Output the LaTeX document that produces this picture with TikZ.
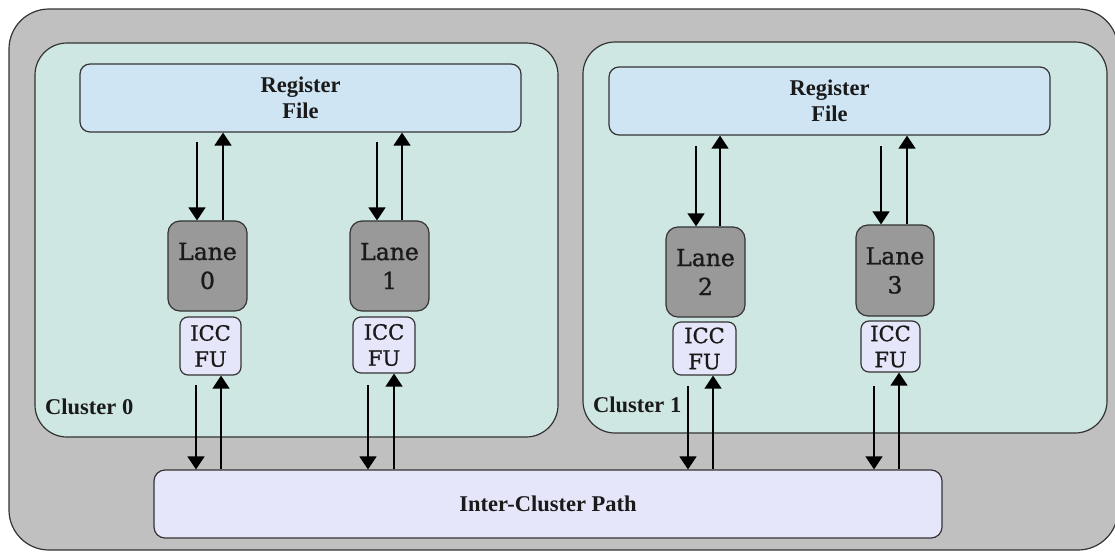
\documentclass[tikz,border=0pt]{standalone}
\usepackage{fontspec}
\setmainfont{Liberation Serif}
\newfontfamily\lanefont[FakeBold=1.1]{DejaVu Serif}
\usetikzlibrary{arrows.meta,calc}

\definecolor{edgecol}{HTML}{333333}
\definecolor{outerfill}{HTML}{C0C0C0}
\definecolor{clusterfill}{HTML}{CFE7E3}
\definecolor{regfill}{HTML}{CFE5F3}
\definecolor{lanefill}{HTML}{999999}
\definecolor{iccfill}{HTML}{E6E6FA}
\definecolor{txt}{HTML}{1A1A1A}

\tikzset{
  box/.style={draw=edgecol, line width=1.2pt, rounded corners=#1, inner sep=0pt,
              align=center, text=txt},
  regbox/.style={box=10pt, fill=regfill, minimum width=441pt, minimum height=68pt,
                 font=\bfseries\fontsize{22.5}{26}\selectfont},
  lanebox/.style={box=12pt, fill=lanefill, minimum width=79pt, minimum height=90pt,
                  font=\lanefont\fontsize{23.5}{29}\selectfont},
  iccbox/.style={box=8pt, fill=iccfill, font=\lanefont\fontsize{21}{26}\selectfont},
  pathbox/.style={box=11pt, fill=iccfill, minimum width=788pt, minimum height=68pt,
                  font=\bfseries\fontsize{22.5}{26}\selectfont},
  clusterlabel/.style={anchor=west, inner sep=0pt, text=txt,
                       font=\bfseries\fontsize{22.5}{26}\selectfont},
  arr/.style={line width=1.3pt, -{Triangle[width=17pt,length=13pt]}},
}

\begin{document}
\begin{tikzpicture}[x=1pt,y=-1pt]
\useasboundingbox (0,0) rectangle (1115,552);

% outer frame and the two clusters
\draw[edgecol, line width=1.2pt, fill=outerfill, rounded corners=40pt]
  (9,9) rectangle (1118,550);
\draw[edgecol, line width=1.2pt, fill=clusterfill, rounded corners=32pt]
  (35,43) rectangle (558,437);
\draw[edgecol, line width=1.2pt, fill=clusterfill, rounded corners=32pt]
  (583,42) rectangle (1107,433);

\node[clusterlabel] (c0) at (45,407) {Cluster 0};
\node[clusterlabel] (c1) at (593,405) {Cluster 1};

% register files
\node[regbox] (rf0) at (300.5,98)  {Register\\File};
\node[regbox] (rf1) at (829.5,101) {Register\\File};

% lanes
\node[lanebox] (lane0) at (207.5,266) {Lane\\0};
\node[lanebox] (lane1) at (389.5,266) {Lane\\1};
\node[lanebox] (lane2) at (705.5,272) {Lane\\2};
\node[lanebox, minimum width=78pt, minimum height=91pt] (lane3) at (895,270.5) {Lane\\3};

% inter-cluster communication units
\node[iccbox, minimum width=61pt, minimum height=58pt] (icc0) at (210.5,346) {ICC\\FU};
\node[iccbox, minimum width=62pt, minimum height=56pt] (icc1) at (384,345) {ICC\\FU};
\node[iccbox, minimum width=63pt, minimum height=53pt] (icc2) at (704.5,348.5) {ICC\\FU};
\node[iccbox, minimum width=59pt, minimum height=51pt] (icc3) at (890.5,346.5) {ICC\\FU};

% shared path
\node[pathbox] (icp) at (548,504) {Inter-Cluster Path};

% register file <-> lane links
\coordinate (rd0) at (197,142);  \coordinate (ru0) at (223,0);
\coordinate (rd1) at (377,142);  \coordinate (ru1) at (402,0);
\coordinate (rd2) at (696,146);  \coordinate (ru2) at (720,0);
\coordinate (rd3) at (881,146);  \coordinate (ru3) at (907,0);

\draw[arr] (rd0) -- (rd0 |- lane0.north);
\draw[arr] (ru0 |- lane0.north) -- (ru0 |- rf0.south);
\draw[arr] (rd1) -- (rd1 |- lane1.north);
\draw[arr] (ru1 |- lane1.north) -- (ru1 |- rf0.south);
\draw[arr] (rd2) -- (rd2 |- lane2.north);
\draw[arr] (ru2 |- lane2.north) -- (ru2 |- rf1.south);
\draw[arr] (rd3) -- (rd3 |- lane3.north);
\draw[arr] (ru3 |- lane3.north) -- (ru3 |- rf1.south);

% ICC FU <-> inter-cluster path links
\coordinate (pd0) at (196,385);  \coordinate (pu0) at (221,0);
\coordinate (pd1) at (368,385);  \coordinate (pu1) at (394,0);
\coordinate (pd2) at (688,386);  \coordinate (pu2) at (713,0);
\coordinate (pd3) at (874,386);  \coordinate (pu3) at (899,0);

\draw[arr] (pd0) -- (pd0 |- icp.north);
\draw[arr] (pu0 |- icp.north) -- (pu0 |- icc0.south);
\draw[arr] (pd1) -- (pd1 |- icp.north);
\draw[arr] (pu1 |- icp.north) -- (pu1 |- icc1.south);
\draw[arr] (pd2) -- (pd2 |- icp.north);
\draw[arr] (pu2 |- icp.north) -- (pu2 |- icc2.south);
\draw[arr] (pd3) -- (pd3 |- icp.north);
\draw[arr] (pu3 |- icp.north) -- (pu3 |- icc3.south);
\end{tikzpicture}
\end{document}
